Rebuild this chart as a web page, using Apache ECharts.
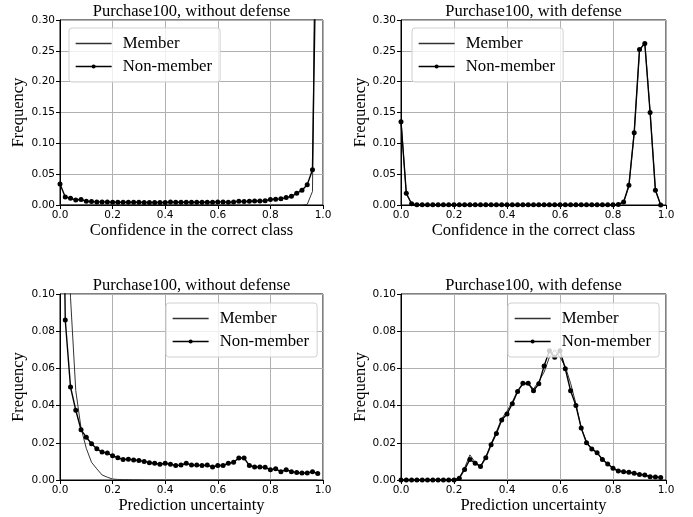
<!DOCTYPE html>
<html>
<head>
<meta charset="utf-8">
<script src="https://cdn.jsdelivr.net/npm/echarts@6/dist/echarts.min.js"></script>
<style>
  html, body { margin: 0; padding: 0; background: #fff; }
  #chart { width: 693px; height: 517px; }
</style>
</head>
<body>
<div id="chart"></div>
<script>
// bin centres shared by all four panels
const binX = [
  0.00, 0.02, 0.04, 0.06, 0.08, 0.10, 0.12, 0.14, 0.16, 0.18,
  0.20, 0.22, 0.24, 0.26, 0.28, 0.30, 0.32, 0.34, 0.36, 0.38,
  0.40, 0.42, 0.44, 0.46, 0.48, 0.50, 0.52, 0.54, 0.56, 0.58,
  0.60, 0.62, 0.64, 0.66, 0.68, 0.70, 0.72, 0.74, 0.76, 0.78,
  0.80, 0.82, 0.84, 0.86, 0.88, 0.90, 0.92, 0.94, 0.96, 0.98,
]

const titles = [
  'Purchase100, without defense',
  'Purchase100, with defense',
  'Purchase100, without defense',
  'Purchase100, with defense',
]
const xNames = [
  'Confidence in the correct class',
  'Confidence in the correct class',
  'Prediction uncertainty',
  'Prediction uncertainty',
]
const yMax = [0.3, 0.3, 0.1, 0.1]
const yStep = [0.05, 0.05, 0.02, 0.02]

// confidence, without defense
const member1 = [
  0, 0, 0, 0, 0, 0, 0, 0, 0, 0,
  0, 0, 0, 0, 0, 0, 0, 0, 0, 0,
  0, 0, 0, 0, 0, 0, 0, 0, 0, 0,
  0, 0, 0, 0, 0, 0, 0, 0, 0, 0,
  0, 0, 0, 0, 0, 0, 0, 0.001, 0.022, 0.9,
]
const nonMember1 = [
  0.034, 0.013, 0.011, 0.008, 0.009, 0.006, 0.0055, 0.005, 0.005, 0.005,
  0.0045, 0.0045, 0.0045, 0.0045, 0.0045, 0.0045, 0.004, 0.004, 0.004, 0.004,
  0.004, 0.005, 0.0045, 0.0045, 0.0045, 0.0045, 0.0045, 0.0045, 0.0045, 0.0045,
  0.005, 0.005, 0.0045, 0.005, 0.006, 0.0055, 0.006, 0.0065, 0.0065, 0.007,
  0.009, 0.0095, 0.010, 0.012, 0.014, 0.019, 0.024, 0.033, 0.057, 0.6,
]

// confidence, with defense
const member2 = [
  0.138, 0.018, 0.002, 0, 0, 0, 0, 0, 0, 0,
  0, 0, 0, 0, 0, 0, 0, 0, 0, 0,
  0, 0, 0, 0, 0, 0, 0, 0, 0, 0,
  0, 0, 0, 0, 0, 0, 0, 0, 0, 0,
  0, 0.001, 0.004, 0.030, 0.118, 0.250, 0.264, 0.152, 0.025, 0,
]
const nonMember2 = [
  0.135, 0.019, 0.002, 0.0003, 0.0003, 0.0003, 0.0003, 0.0003, 0.0003, 0.0003,
  0.0003, 0.0003, 0.0003, 0.0003, 0.0003, 0.0003, 0.0003, 0.0003, 0.0003, 0.0003,
  0.0003, 0.0003, 0.0003, 0.0003, 0.0003, 0.0003, 0.0003, 0.0003, 0.0003, 0.0003,
  0.0003, 0.0003, 0.0003, 0.0003, 0.0003, 0.0003, 0.0003, 0.0003, 0.0003, 0.0003,
  0.0003, 0.001, 0.005, 0.032, 0.117, 0.252, 0.262, 0.150, 0.024, 0,
]

// uncertainty, without defense
const member3 = [
  0.55, 0.25, 0.098, 0.048, 0.028, 0.017, 0.0095, 0.006, 0.0027, 0.0015,
  0.0005, 0.0003, 0.0002, 0.0002, 0.0001, 0.0001, 0, 0, 0, 0,
  0, 0, 0, 0, 0, 0, 0, 0, 0, 0,
  0, 0, 0, 0, 0, 0, 0, 0, 0, 0,
  0, 0, 0, 0, 0, 0, 0, 0, 0, 0,
]
const nonMember3 = [
  0.30, 0.086, 0.050, 0.0375, 0.027, 0.023, 0.0195, 0.0168, 0.015, 0.0145,
  0.013, 0.012, 0.011, 0.0112, 0.0108, 0.0105, 0.010, 0.0093, 0.009, 0.0085,
  0.009, 0.0085, 0.0078, 0.008, 0.009, 0.008, 0.008, 0.0078, 0.008, 0.007,
  0.0078, 0.0078, 0.009, 0.0095, 0.0118, 0.0118, 0.0078, 0.007, 0.007, 0.0068,
  0.0055, 0.006, 0.0045, 0.0055, 0.0045, 0.004, 0.0038, 0.0038, 0.0045, 0.0035,
]

// uncertainty, with defense
const member4 = [
  0, 0, 0, 0, 0, 0, 0, 0, 0, 0,
  0, 0.0012, 0.0065, 0.0135, 0.0095, 0.0075, 0.0125, 0.0195, 0.026, 0.033,
  0.037, 0.042, 0.048, 0.0515, 0.0515, 0.049, 0.053, 0.058, 0.066, 0.070,
  0.066, 0.061, 0.052, 0.041, 0.028, 0.0205, 0.0168, 0.0145, 0.0112, 0.0088,
  0.0065, 0.005, 0.0046, 0.0042, 0.0036, 0.0031, 0.0027, 0.0019, 0.0016, 0.0013,
]
const nonMember4 = [
  0, 0, 0, 0, 0, 0, 0, 0, 0, 0,
  0, 0.001, 0.0057, 0.011, 0.009, 0.0072, 0.012, 0.019, 0.025, 0.0323,
  0.0355, 0.041, 0.0476, 0.052, 0.052, 0.048, 0.0517, 0.0613, 0.0695, 0.066,
  0.0695, 0.0598, 0.048, 0.040, 0.028, 0.020, 0.0167, 0.0147, 0.011, 0.0086,
  0.0063, 0.0048, 0.0045, 0.0041, 0.0036, 0.003, 0.0027, 0.0018, 0.0016, 0.0013,
]

const members = [member1, member2, member3, member4]
const nonMembers = [nonMember1, nonMember2, nonMember3, nonMember4]

const serif = '"Liberation Serif", "DejaVu Serif", serif'
const sans = '"DejaVu Sans", sans-serif'

// plot boxes, px
const grids = [
  { left: 60, top: 20, width: 263, height: 185 },
  { left: 401, top: 20, width: 265, height: 185 },
  { left: 60, top: 294, width: 263, height: 186 },
  { left: 401, top: 294, width: 265, height: 186 },
]
const legendPos = [
  { left: 69, top: 28 },
  { left: 412, top: 28 },
  { left: 166, top: 303 },
  { left: 508, top: 303 },
]

const pairs = (ys) => binX.map((x, i) => [x, ys[i]])

const chart = echarts.init(document.getElementById('chart'))

const option = {
  animation: false,
  backgroundColor: '#fff',
  title: grids.map((g, i) => ({
    text: titles[i],
    left: g.left + g.width / 2,
    top: g.top - 17,
    textAlign: 'center',
    padding: 0,
    textStyle: { fontFamily: serif, fontSize: 16.5, fontWeight: 'normal', color: '#000' },
  })),
  legend: legendPos.map((p) => ({
    left: p.left,
    top: p.top,
    orient: 'vertical',
    data: [
      // plain line, no marker
      { name: 'Member', icon: 'path://M0,0 L36,0 L36,1.3 L0,1.3 Z' },
      { name: 'Non-member' },
    ],
    itemWidth: 36,
    itemHeight: 5,
    itemGap: 6,
    padding: [7, 8, 7, 6],
    backgroundColor: 'rgba(255,255,255,0.8)',
    borderColor: '#d0d0d0',
    borderWidth: 1,
    borderRadius: 3,
    selectedMode: false,
    lineStyle: { width: 1.3 },
    textStyle: { fontFamily: serif, fontSize: 16.8, color: '#000', padding: [0, 0, 0, 6] },
  })),
  grid: grids.map((g) => ({
    left: g.left,
    top: g.top,
    width: g.width,
    height: g.height,
    show: true,
    borderColor: '#000',
    borderWidth: 1,
    containLabel: false,
  })),
  xAxis: grids.map((g, i) => ({
    type: 'value',
    gridIndex: i,
    min: 0,
    max: 1,
    interval: 0.2,
    name: xNames[i],
    nameLocation: 'middle',
    nameGap: 17,
    nameTextStyle: { fontFamily: serif, fontSize: 16.5, color: '#000' },
    axisLine: { show: true, onZero: false, lineStyle: { color: '#000', width: 1 } },
    axisTick: { show: true, length: 4, lineStyle: { color: '#000' } },
    axisLabel: {
      margin: 5,
      fontFamily: sans,
      fontSize: 10.5,
      color: '#000',
      formatter: (v) => v.toFixed(1),
    },
    splitLine: { show: true, lineStyle: { color: '#b0b0b0', width: 1 } },
  })),
  yAxis: grids.map((g, i) => ({
    type: 'value',
    gridIndex: i,
    min: 0,
    max: yMax[i],
    interval: yStep[i],
    name: 'Frequency',
    nameLocation: 'middle',
    nameGap: i % 2 === 0 ? 33 : 32,
    nameTextStyle: { fontFamily: serif, fontSize: 16.5, color: '#000' },
    axisLine: { show: true, onZero: false, lineStyle: { color: '#000', width: 1 } },
    axisTick: { show: true, length: 4, lineStyle: { color: '#000' } },
    axisLabel: {
      margin: 5,
      fontFamily: sans,
      fontSize: 10.5,
      color: '#000',
      formatter: (v) => v.toFixed(2),
    },
    splitLine: { show: true, lineStyle: { color: '#b0b0b0', width: 1 } },
  })),
  series: [],
}

for (let i = 0; i < 4; i += 1) {
  option.series.push({
    name: 'Member',
    type: 'line',
    xAxisIndex: i,
    yAxisIndex: i,
    data: pairs(members[i]),
    symbol: 'none',
    clip: true,
    color: '#333',
    lineStyle: { color: '#333', width: 1 },
    z: 2,
  })
  option.series.push({
    name: 'Non-member',
    type: 'line',
    xAxisIndex: i,
    yAxisIndex: i,
    data: pairs(nonMembers[i]),
    symbol: 'circle',
    symbolSize: 5,
    showAllSymbol: true,
    clip: true,
    color: '#000',
    itemStyle: { color: '#000' },
    lineStyle: { color: '#000', width: 1.4 },
    z: 3,
  })
}

chart.setOption(option)
</script>
</body>
</html>
